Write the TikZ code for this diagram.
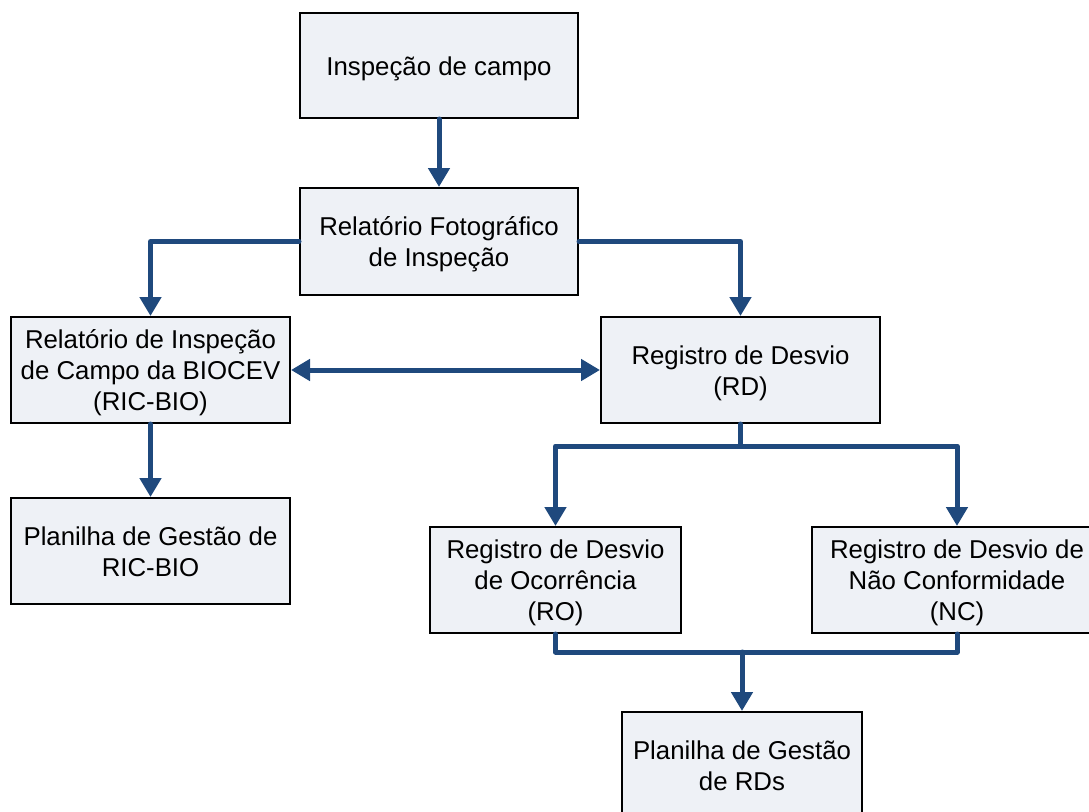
\documentclass[tikz,border=0pt]{standalone}
\usepackage{fontspec}
\setmainfont{Liberation Sans}
\usetikzlibrary{arrows.meta}
\definecolor{boxfill}{RGB}{238,241,246}
\definecolor{arrowblue}{RGB}{31,73,125}
\newcommand{\topstrut}{\rule{0pt}{26pt}}
\newcommand{\botstrut}{\rule[-7pt]{0pt}{7pt}}
\begin{document}
\begin{tikzpicture}[x=1pt,y=1pt,
  box/.style={draw=black, line width=2pt, fill=boxfill, rectangle, align=center,
    inner sep=0pt, minimum height=106pt, font=\fontsize{25.8}{31}\selectfont},
  conn/.style={draw=arrowblue, line width=5pt, line join=round, line cap=round},
  arr/.style={conn, -{Triangle[width=21pt,length=19pt]}},
  darr/.style={conn, {Triangle[width=21pt,length=19pt]}-{Triangle[width=21pt,length=19pt]}}]
\useasboundingbox (0,0) rectangle (1089,-811);
\begin{scope}
\clip (0,0) rectangle (1089,-811);
\node[box, minimum width=278pt, minimum height=105pt] (b1) at (439,-65.5) {\topstrut Inspeção de campo\botstrut};
\node[box, minimum width=278pt, minimum height=107pt] (b2) at (439,-241.5) {\topstrut Relatório Fotográfico\\de Inspeção\botstrut};
\node[box, minimum width=279pt] (b3) at (150.5,-370) {\topstrut Relatório de Inspeção\\de Campo da BIOCEV\\(RIC-BIO)\botstrut};
\node[box, minimum width=279pt] (b4) at (740.5,-370) {\topstrut Registro de Desvio\\(RD)\botstrut};
\node[box, minimum width=279pt] (b5) at (150.5,-551) {\topstrut Planilha de Gestão de\\RIC-BIO\botstrut};
\node[box, minimum width=251pt] (b6) at (555.5,-580) {\topstrut Registro de Desvio\\de Ocorrência\\(RO)\botstrut};
\node[box, minimum width=290pt] (b7) at (957,-580) {\topstrut Registro de Desvio de\\Não Conformidade\\(NC)\botstrut};
\node[box, minimum width=240pt] (b8) at (742,-765) {\topstrut Planilha de Gestão\\de RDs\botstrut};
\end{scope}
\coordinate (j1) at (740.5,-446);
\coordinate (j2) at (742,-652);
\draw[arr] (b1.south) -- (b2.north);
\draw[arr] (b2.west) -| (b3.north);
\draw[arr] (b2.east) -| (b4.north);
\draw[darr] (b3.east) -- (b4.west);
\draw[arr] (b3.south) -- (b5.north);
\draw[conn] (b4.south) -- (j1);
\draw[arr] (j1) -| (b6.north);
\draw[arr] (j1) -| (b7.north);
\draw[conn] (b6.south) |- (j2) -| (b7.south);
\draw[arr] (j2) -- (b8.north);
\end{tikzpicture}
\end{document}
